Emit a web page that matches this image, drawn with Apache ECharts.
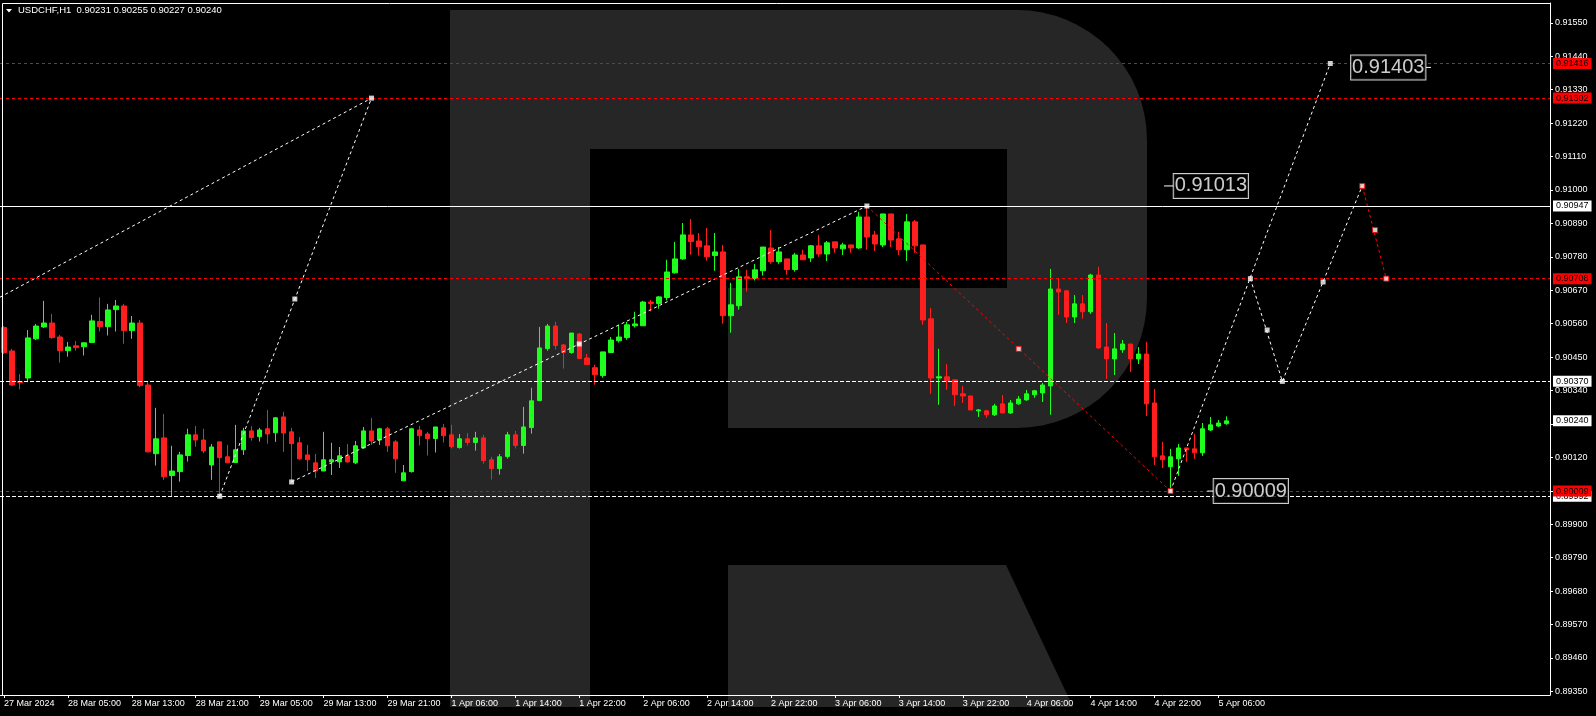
<!DOCTYPE html>
<html>
<head>
<meta charset="utf-8">
<script src="https://cdn.jsdelivr.net/npm/echarts@6/dist/echarts.min.js"></script>
<style>html,body{margin:0;padding:0;background:#000;}#c{width:1596px;height:716px;}</style>
</head>
<body>
<div id="c"></div>
<script>
// ---------------- DATA ----------------
const symbolTitle = 'USDCHF,H1  0.90231 0.90255 0.90227 0.90240';
const timeLabels = ['27 Mar 2024','28 Mar 05:00','28 Mar 13:00','28 Mar 21:00','29 Mar 05:00','29 Mar 13:00','29 Mar 21:00','1 Apr 06:00','1 Apr 14:00','1 Apr 22:00','2 Apr 06:00','2 Apr 14:00','2 Apr 22:00','3 Apr 06:00','3 Apr 14:00','3 Apr 22:00','4 Apr 06:00','4 Apr 14:00','4 Apr 22:00','5 Apr 06:00'];
const yTicks = [0.89350,0.89460,0.89570,0.89680,0.89790,0.89900,0.90010,0.90120,0.90230,0.90340,0.90450,0.90560,0.90670,0.90780,0.90890,0.91000,0.91110,0.91220,0.91330,0.91440,0.91550];

const opens = [0.90547,0.90470,0.90369,0.90381,0.90510,0.90549,0.90562,0.90516,0.90471,0.90487,0.90484,0.90498,0.90567,0.90550,0.90606,0.90618,0.90537,0.90562,0.90358,0.90132,
0.90184,0.90060,0.90073,0.90126,0.90194,0.90177,0.90095,0.90171,0.90122,0.90103,0.90145,0.90207,0.90188,0.90214,0.90201,0.90253,0.90204,0.90168,0.90128,0.90102,
0.90075,0.90105,0.90105,0.90125,0.90102,0.90151,0.90207,0.90177,0.90214,0.90171,0.90043,0.90073,0.90210,0.90197,0.90182,0.90217,0.90194,0.90152,0.90181,0.90169,
0.90184,0.90112,0.90083,0.90123,0.90194,0.90159,0.90218,0.90307,0.90478,0.90552,0.90490,0.90465,0.90526,0.90447,0.90415,0.90389,0.90465,0.90504,0.90514,0.90553,
0.90553,0.90631,0.90626,0.90646,0.90727,0.90773,0.90852,0.90832,0.90816,0.90784,0.90796,0.90586,0.90619,0.90714,0.90708,0.90734,0.90809,0.90764,0.90773,0.90738,
0.90786,0.90776,0.90816,0.90789,0.90829,0.90806,0.90819,0.90809,0.90911,0.90852,0.90819,0.90921,0.90839,0.90803,0.90895,0.90819,0.90576,0.90381,0.90385,0.90375,
0.90329,0.90322,0.90273,0.90273,0.90260,0.90296,0.90266,0.90296,0.90309,0.90326,0.90332,0.90355,0.90674,0.90668,0.90582,0.90625,0.90599,0.90720,0.90483,0.90444,
0.90474,0.90493,0.90444,0.90460,0.90299,0.90125,0.90089,0.90115,0.90151,0.90148,0.90135,0.90210,0.90223,0.90231];
const highs = [0.90552,0.90477,0.90394,0.90539,0.90559,0.90635,0.90592,0.90523,0.90500,0.90503,0.90497,0.90589,0.90646,0.90625,0.90638,0.90625,0.90585,0.90572,0.90368,0.90283,
0.90263,0.90158,0.90138,0.90214,0.90223,0.90214,0.90164,0.90171,0.90161,0.90227,0.90217,0.90223,0.90217,0.90276,0.90253,0.90270,0.90217,0.90187,0.90161,0.90131,
0.90204,0.90168,0.90154,0.90164,0.90174,0.90220,0.90250,0.90217,0.90220,0.90177,0.90095,0.90217,0.90223,0.90204,0.90220,0.90230,0.90227,0.90197,0.90200,0.90204,
0.90194,0.90122,0.90131,0.90204,0.90207,0.90286,0.90349,0.90549,0.90559,0.90566,0.90493,0.90529,0.90529,0.90460,0.90425,0.90467,0.90516,0.90556,0.90566,0.90599,
0.90635,0.90638,0.90651,0.90770,0.90829,0.90891,0.90904,0.90858,0.90875,0.90858,0.90819,0.90694,0.90740,0.90737,0.90756,0.90812,0.90868,0.90812,0.90773,0.90793,
0.90803,0.90819,0.90852,0.90832,0.90829,0.90826,0.90819,0.90928,0.90947,0.90865,0.90921,0.90921,0.90862,0.90921,0.90901,0.90819,0.90612,0.90477,0.90427,0.90375,
0.90355,0.90322,0.90279,0.90276,0.90296,0.90325,0.90309,0.90322,0.90342,0.90342,0.90365,0.90740,0.90710,0.90668,0.90654,0.90654,0.90724,0.90747,0.90562,0.90529,
0.90506,0.90493,0.90483,0.90500,0.90345,0.90171,0.90148,0.90164,0.90151,0.90197,0.90233,0.90253,0.90243,0.90255];
const lows = [0.90460,0.90355,0.90344,0.90367,0.90506,0.90546,0.90510,0.90432,0.90451,0.90471,0.90455,0.90498,0.90534,0.90521,0.90534,0.90494,0.90510,0.90351,0.90136,0.90093,
0.90046,0.89991,0.90040,0.90106,0.90155,0.90134,0.90046,0.89992,0.90102,0.90103,0.90128,0.90175,0.90172,0.90165,0.90171,0.90138,0.90039,0.90112,0.90075,0.90052,
0.90075,0.90062,0.90085,0.90102,0.90098,0.90148,0.90161,0.90161,0.90138,0.90069,0.90042,0.90070,0.90159,0.90126,0.90136,0.90169,0.90149,0.90149,0.90159,0.90142,
0.90099,0.90047,0.90063,0.90116,0.90149,0.90132,0.90198,0.90307,0.90471,0.90475,0.90412,0.90461,0.90445,0.90425,0.90359,0.90382,0.90465,0.90498,0.90507,0.90547,
0.90553,0.90600,0.90609,0.90636,0.90725,0.90770,0.90787,0.90784,0.90767,0.90734,0.90560,0.90530,0.90606,0.90665,0.90702,0.90718,0.90757,0.90757,0.90721,0.90731,
0.90770,0.90763,0.90780,0.90766,0.90793,0.90786,0.90793,0.90806,0.90803,0.90799,0.90812,0.90812,0.90786,0.90766,0.90793,0.90556,0.90329,0.90293,0.90342,0.90289,
0.90299,0.90276,0.90253,0.90250,0.90256,0.90266,0.90263,0.90293,0.90306,0.90316,0.90302,0.90260,0.90589,0.90562,0.90562,0.90576,0.90592,0.90477,0.90378,0.90391,
0.90464,0.90401,0.90427,0.90256,0.90095,0.90085,0.90009,0.90059,0.90105,0.90115,0.90125,0.90207,0.90220,0.90227];
const closes = [0.90465,0.90358,0.90366,0.90513,0.90552,0.90562,0.90514,0.90471,0.90483,0.90481,0.90497,0.90569,0.90550,0.90605,0.90618,0.90537,0.90562,0.90356,0.90138,0.90181,
0.90056,0.90075,0.90128,0.90194,0.90177,0.90141,0.90154,0.90119,0.90102,0.90145,0.90207,0.90185,0.90210,0.90197,0.90250,0.90200,0.90165,0.90115,0.90112,0.90075,
0.90112,0.90112,0.90125,0.90105,0.90158,0.90207,0.90174,0.90214,0.90158,0.90115,0.90069,0.90214,0.90191,0.90182,0.90220,0.90191,0.90155,0.90181,0.90169,0.90184,
0.90109,0.90083,0.90122,0.90194,0.90159,0.90220,0.90306,0.90480,0.90552,0.90488,0.90465,0.90529,0.90445,0.90425,0.90392,0.90467,0.90506,0.90516,0.90556,0.90559,
0.90631,0.90626,0.90648,0.90730,0.90773,0.90852,0.90830,0.90813,0.90780,0.90796,0.90586,0.90622,0.90714,0.90708,0.90737,0.90812,0.90764,0.90796,0.90738,0.90786,
0.90770,0.90816,0.90789,0.90826,0.90809,0.90819,0.90809,0.90911,0.90845,0.90822,0.90921,0.90835,0.90803,0.90895,0.90816,0.90572,0.90381,0.90385,0.90372,0.90326,
0.90322,0.90276,0.90276,0.90260,0.90289,0.90266,0.90299,0.90312,0.90329,0.90339,0.90358,0.90674,0.90664,0.90582,0.90625,0.90599,0.90720,0.90480,0.90444,0.90477,
0.90493,0.90444,0.90460,0.90296,0.90122,0.90112,0.90122,0.90151,0.90145,0.90135,0.90214,0.90227,0.90233,0.90240];

// horizontal levels
const redLevels = [0.91416, 0.91302, 0.90708, 0.90009];
const whiteDashLevels = [0.90370, 0.89992];
const solidLevels = [0.90947];
const bidLevels = [0.90240];

// analysis lines: [bar index, price]
const waveLine1 = [[-0.5, 0.90647], [46, 0.91302]];
const waveLine2 = [[27, 0.89992], [46, 0.91302]];
const waveLine3 = [[36, 0.90039], [108, 0.90947]];
const waveDown = [[108, 0.90947], [146, 0.90009]];
const targetLine = [[146, 0.90009], [166, 0.91416]];
const forecastWhite = [[156, 0.90708], [160, 0.90370], [170, 0.91013]];
const forecastRed = [[170, 0.91013], [173, 0.90708]];
const whiteMarks = [[46, 0.91302], [27, 0.89992], [36.4, 0.90641], [36, 0.90039], [72, 0.90493], [108, 0.90947], [156, 0.90708], [166, 0.91416], [158.1, 0.90539], [160, 0.90370], [165.1, 0.90697]];
const redMarks = [[127, 0.90477], [146, 0.90009], [170, 0.91013], [171.6, 0.90868], [173, 0.90708]];
const priceTags = [
  {text: '0.91013', bar: 146.4, price: 0.91013, stub: [145.2, 146.4]},
  {text: '0.91403', bar: 168.6, price: 0.91403, stub: [178.0, 178.6]},
  {text: '0.90009', bar: 151.4, price: 0.90009, stub: [150.6, 151.4]}
];

// ---------------- CHART ----------------
const N = 194;
const categories = Array.from({length: N}, (_, i) => String(i));
const FONT = 'Liberation Sans';
const GREEN = '#1eff1e', RED = '#ff1e1e';
const yMax = 0.91615, yMin = 0.89338;

const candleData = opens.map((o, i) => [o, closes[i], lows[i], highs[i]]);
const showIdx = (i) => i % 8 === 0 && i / 8 < timeLabels.length;

const markData = [];
function tag(v, bg, fg) {
  return {show: true, position: 'end', distance: 3, formatter: v.toFixed(5), backgroundColor: bg, color: fg,
    fontSize: 9, fontFamily: FONT, lineHeight: 10, padding: [1, 3, 0, 3]};
}
bidLevels.forEach(v => markData.push({yAxis: v, lineStyle: {color: 'rgba(0,0,0,0)', width: 1}, label: tag(v, '#fff', '#000')}));
whiteDashLevels.forEach(v => markData.push({yAxis: v, lineStyle: {color: '#fff', type: [4, 2], width: 1}, label: tag(v, '#fff', '#000')}));
solidLevels.forEach(v => markData.push({yAxis: v, lineStyle: {color: '#fff', type: 'solid', width: 1}, label: tag(v, '#fff', '#000')}));
redLevels.forEach(v => markData.push({yAxis: v, lineStyle: {color: '#ff0000', type: [3, 3], width: 1}, label: tag(v, '#ff0000', '#000')}));

function lineSeries(data, color) {
  return {type: 'line', xAxisIndex: 1, yAxisIndex: 0, data: data, symbol: 'none', silent: true,
    lineStyle: {color: color, width: 1, type: [3, 3]}, z: 4};
}

const series = [
  {type: 'candlestick', xAxisIndex: 0, yAxisIndex: 0, data: candleData, barWidth: 5,
    itemStyle: {color: GREEN, color0: RED, borderColor: GREEN, borderColor0: RED, borderWidth: 1},
    markLine: {silent: true, symbol: ['none', 'none'], animation: false, precision: 5, data: markData}, z: 3},
  lineSeries(waveLine1, '#fff'),
  lineSeries(waveLine2, '#fff'),
  lineSeries(waveLine3, '#fff'),
  lineSeries(waveDown, '#ff0000'),
  lineSeries(targetLine, '#fff'),
  lineSeries(forecastWhite, '#fff'),
  lineSeries(forecastRed, '#ff0000'),
  {type: 'scatter', xAxisIndex: 1, yAxisIndex: 0, data: whiteMarks, symbol: 'rect', symbolSize: 5,
    itemStyle: {color: '#fff'}, silent: true, z: 5},
  {type: 'scatter', xAxisIndex: 1, yAxisIndex: 0, data: redMarks, symbol: 'rect', symbolSize: 5,
    itemStyle: {color: '#fff', borderColor: '#ff0000', borderWidth: 1}, silent: true, z: 5}
];
priceTags.forEach(t => {
  series.push({type: 'line', xAxisIndex: 1, yAxisIndex: 0, data: t.stub.map(b => [b, t.price]), symbol: 'none', silent: true,
    lineStyle: {color: '#fff', width: 1}, z: 6});
  series.push({type: 'scatter', xAxisIndex: 1, yAxisIndex: 0, data: [[t.bar, t.price]], symbolSize: 0.1,
    itemStyle: {color: 'rgba(0,0,0,0)'}, silent: true, z: 7,
    label: {show: true, position: 'right', distance: 0, formatter: t.text, color: '#fff', fontSize: 20, fontFamily: FONT,
      lineHeight: 21, backgroundColor: '#000', borderColor: '#fff', borderWidth: 1, padding: [2, 1, 1, 1]}});
});

const grey = '#262626';
const option = {
  backgroundColor: '#000',
  animation: false,
  grid: {left: 0, right: 46, top: 3, bottom: 21, containLabel: false},
  xAxis: [
    {type: 'category', data: categories, boundaryGap: true,
      axisLine: {show: true, onZero: false, lineStyle: {color: '#fff', width: 1}},
      axisTick: {show: true, alignWithLabel: true, interval: showIdx, length: 3, lineStyle: {color: '#fff'}},
      axisLabel: {interval: showIdx, formatter: (v, i) => timeLabels[Math.round(i / 8)] || '', align: 'left',
        color: '#fff', fontSize: 9, fontFamily: FONT, margin: 4},
      splitLine: {show: false}},
    {type: 'value', min: -0.5, max: N - 0.5, show: false, axisLine: {onZero: false}}
  ],
  yAxis: [{type: 'value', position: 'right', min: yMin, max: yMax, scale: true,
    axisLine: {show: true, onZero: false, lineStyle: {color: '#fff', width: 1}},
    axisTick: {show: true, length: 3, customValues: yTicks, lineStyle: {color: '#fff'}},
    axisLabel: {customValues: yTicks, formatter: v => v.toFixed(5), color: '#fff', fontSize: 9, fontFamily: FONT, margin: 5},
    splitLine: {show: false}}],
  graphic: [
    {type: 'rect', z: -10, silent: true, shape: {x: 450, y: 10, width: 140, height: 697}, style: {fill: grey}},
    {type: 'rect', z: -10, silent: true, shape: {x: 589, y: 10, width: 141, height: 139}, style: {fill: grey}},
    {type: 'rect', z: -10, silent: true, shape: {x: 728, y: 10, width: 419, height: 418, r: [0, 130, 130, 0]}, style: {fill: grey}},
    {type: 'rect', z: -9, silent: true, shape: {x: 728, y: 149, width: 279, height: 139}, style: {fill: '#000'}},
    {type: 'polygon', z: -10, silent: true, shape: {points: [[728, 565], [1006, 565], [1073, 707], [728, 707]]}, style: {fill: grey}},
    {type: 'polyline', z: 10, silent: true, shape: {points: [[2.5, 695], [2.5, 3.5], [1550, 3.5]]}, style: {stroke: '#fff', lineWidth: 1, fill: null}},
    {type: 'polygon', z: 10, silent: true, shape: {points: [[6, 9], [12, 9], [9, 12.5]]}, style: {fill: '#fff'}},
    {type: 'text', z: 10, silent: true, x: 18, y: 5, style: {text: symbolTitle, fill: '#fff', fontSize: 9.5, fontFamily: FONT}}
  ],
  series: series
};

const chart = echarts.init(document.getElementById('c'), null, {renderer: 'canvas'});
chart.setOption(option);
</script>
</body>
</html>
